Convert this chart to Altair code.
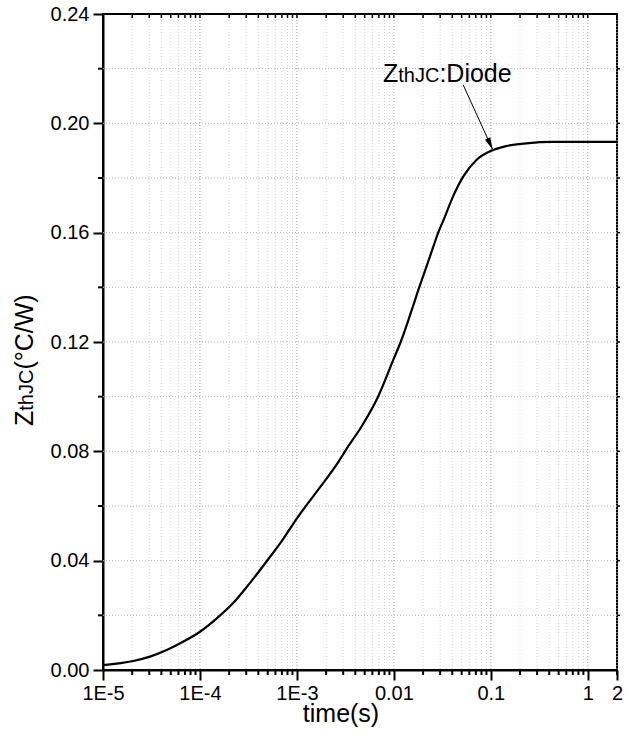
import altair as alt
import pandas as pd

# ---- data ----
time_s = [1e-5, 2.05e-5, 3.05e-5, 4.54e-5, 6.76e-5, 1e-4, 1.49e-4, 2.2e-4, 3.27e-4,
          4.88e-4, 7.24e-4, 1e-3, 1.58e-3, 2.73e-3, 3.13e-3, 4.83e-3, 6.87e-3, 0.01,
          0.01175, 0.01585, 0.01824, 0.02, 0.0254, 0.02864, 0.0324, 0.0407, 0.0518,
          0.071, 0.1, 0.145, 0.233, 0.439, 2.0]
zth = [0.0018, 0.0033, 0.0049, 0.0073, 0.0104, 0.0140, 0.0189, 0.0245, 0.0318,
       0.0398, 0.0480, 0.0555, 0.0650, 0.0766, 0.0800, 0.0901, 0.1000, 0.1140,
       0.1200, 0.1334, 0.1400, 0.1440, 0.1547, 0.1600, 0.1645, 0.1732, 0.1805,
       0.1866, 0.1899, 0.1917, 0.1927, 0.1932, 0.1932]

x_tick_vals = [1e-5, 1e-4, 1e-3, 0.01, 0.1, 1, 2]
x_tick_labels = ["1E-5", "1E-4", "1E-3", "0.01", "0.1", "1", "2"]
x_major = [1e-5, 1e-4, 1e-3, 0.01, 0.1, 1]
x_minor = [m * 10.0 ** e for e in range(-5, 1) for m in range(2, 10) if m * 10.0 ** e <= 2.0]
y_tick_vals = [0.0, 0.04, 0.08, 0.12, 0.16, 0.20, 0.24]
y_minor = [0.02, 0.06, 0.10, 0.14, 0.18, 0.22]
y_grid = [0.02, 0.04, 0.06, 0.08, 0.10, 0.12, 0.14, 0.16, 0.18, 0.20, 0.22]

arrow_from = (0.0518, 0.2141)
arrow_to = (0.1041, 0.1905)

W, H = 514, 656
FONT = "Liberation Sans"

df = pd.DataFrame({"t": time_s, "z": zth})
xs = alt.Scale(type="log", domain=[1e-5, 2], nice=False)
ys = alt.Scale(domain=[0, 0.24], nice=False, zero=False)

label_expr = "".join(
    f"abs(datum.value-{v!r})<{v * 1e-6!r} ? '{l}' : " for v, l in zip(x_tick_vals, x_tick_labels)
) + "''"

x_axis = alt.Axis(values=x_tick_vals, labelExpr=label_expr, title=None, grid=False,
                  labelFontSize=20, labelFont=FONT, labelColor="black",
                  tickSize=10, tickWidth=2, tickColor="black", domainColor="black",
                  domainWidth=2, labelPadding=3, labelFlush=False, labelOverlap=False)
y_axis = alt.Axis(values=y_tick_vals, format=".2f", title=None, grid=False,
                  labelFontSize=20, labelFont=FONT, labelColor="black",
                  tickSize=10, tickWidth=2, tickColor="black", domainColor="black",
                  domainWidth=2, labelPadding=4)


def X(field):
    return alt.X(field, scale=xs, axis=x_axis, title=None)


def Y(field):
    return alt.Y(field, scale=ys, axis=y_axis, title=None)


minor_grid = alt.Chart(pd.DataFrame({"v": x_minor})).mark_rule(
    color="#d4d4d4", strokeDash=[1, 2], strokeWidth=1
).encode(x=X("v:Q"))

major_grid = alt.Chart(pd.DataFrame({"v": x_major[1:]})).mark_rule(
    color="#a0a0a0", strokeDash=[1, 2], strokeWidth=1
).encode(x=X("v:Q"))

h_grid = alt.Chart(pd.DataFrame({"v": y_grid})).mark_rule(
    color="#b8b8b8", strokeDash=[1, 2], strokeWidth=1
).encode(y=Y("v:Q"))

bottom_minor = alt.Chart(pd.DataFrame({"v": x_minor})).mark_rule(
    color="black", strokeWidth=2
).encode(x=X("v:Q"), y=alt.value(H), y2=alt.value(H + 5))

top_ticks = alt.Chart(pd.DataFrame({"v": x_minor + x_major})).mark_rule(
    color="black", strokeWidth=1.5
).encode(x=X("v:Q"), y=alt.value(0), y2=alt.value(4))

left_minor = alt.Chart(pd.DataFrame({"v": y_minor})).mark_rule(
    color="black", strokeWidth=2
).encode(y=Y("v:Q"), x=alt.value(-5), x2=alt.value(0))

right_ticks = alt.Chart(pd.DataFrame({"v": y_grid})).mark_rule(
    color="black", strokeWidth=1.5
).encode(y=Y("v:Q"), x=alt.value(W), x2=alt.value(W + 3))

curve = alt.Chart(df).mark_line(color="black", strokeWidth=2.2, interpolate="monotone").encode(
    x=X("t:Q"), y=Y("z:Q"),
)

arrow_df = pd.DataFrame({"x": [arrow_from[0]], "y": [arrow_from[1]],
                         "x2": [arrow_to[0]], "y2": [arrow_to[1]]})
arrow_line = alt.Chart(arrow_df).mark_rule(color="black", strokeWidth=1).encode(
    x=X("x:Q"), y=Y("y:Q"), x2="x2:Q", y2="y2:Q")
arrow_head = alt.Chart(arrow_df).mark_point(
    shape="M0,0 L-0.25,-1 L0.25,-1 Z", filled=True, color="black", opacity=1,
    size=560, angle=335.4, strokeWidth=0
).encode(x=X("x2:Q"), y=Y("y2:Q"))


def txt(s, x, y, size, angle=0, align="left"):
    props = dict(text=s, font=FONT, fontSize=size, color="black", align=align,
                 baseline="alphabetic")
    if angle:
        props["angle"] = angle
    return alt.Chart(pd.DataFrame({"a": [0]})).mark_text(**props).encode(
        x=alt.value(x), y=alt.value(y))


big, small = 25, 20
ann_x, ann_y = 280, 68
annot = [
    txt("Z", ann_x, ann_y, big),
    txt("thJC", ann_x + 15.3, ann_y, small),
    txt(":Diode", ann_x + 15.3 + 41.1, ann_y, big),
]
yt_x, yt_y = -70, 412
ytitle = [
    txt("Z", yt_x, yt_y, big, angle=270),
    txt("thJC", yt_x, yt_y - 15.3, small, angle=270),
    txt("(°C/W)", yt_x, yt_y - 15.3 - 41.1, big, angle=270),
]
xtitle = [txt("time(s)", 238, 708, big, align="center")]

chart = alt.layer(
    minor_grid, major_grid, h_grid, bottom_minor, top_ticks, left_minor, right_ticks,
    curve, arrow_line, arrow_head, *annot, *ytitle, *xtitle
).properties(
    width=W, height=H,
    padding={"left": 103, "top": 14, "right": 17, "bottom": 70},
    autosize=alt.AutoSizeParams(type="none"),
    background="white",
).configure_view(stroke="black", strokeWidth=2)

chart.save("out.html", embed_options={"renderer": "svg", "actions": False})
